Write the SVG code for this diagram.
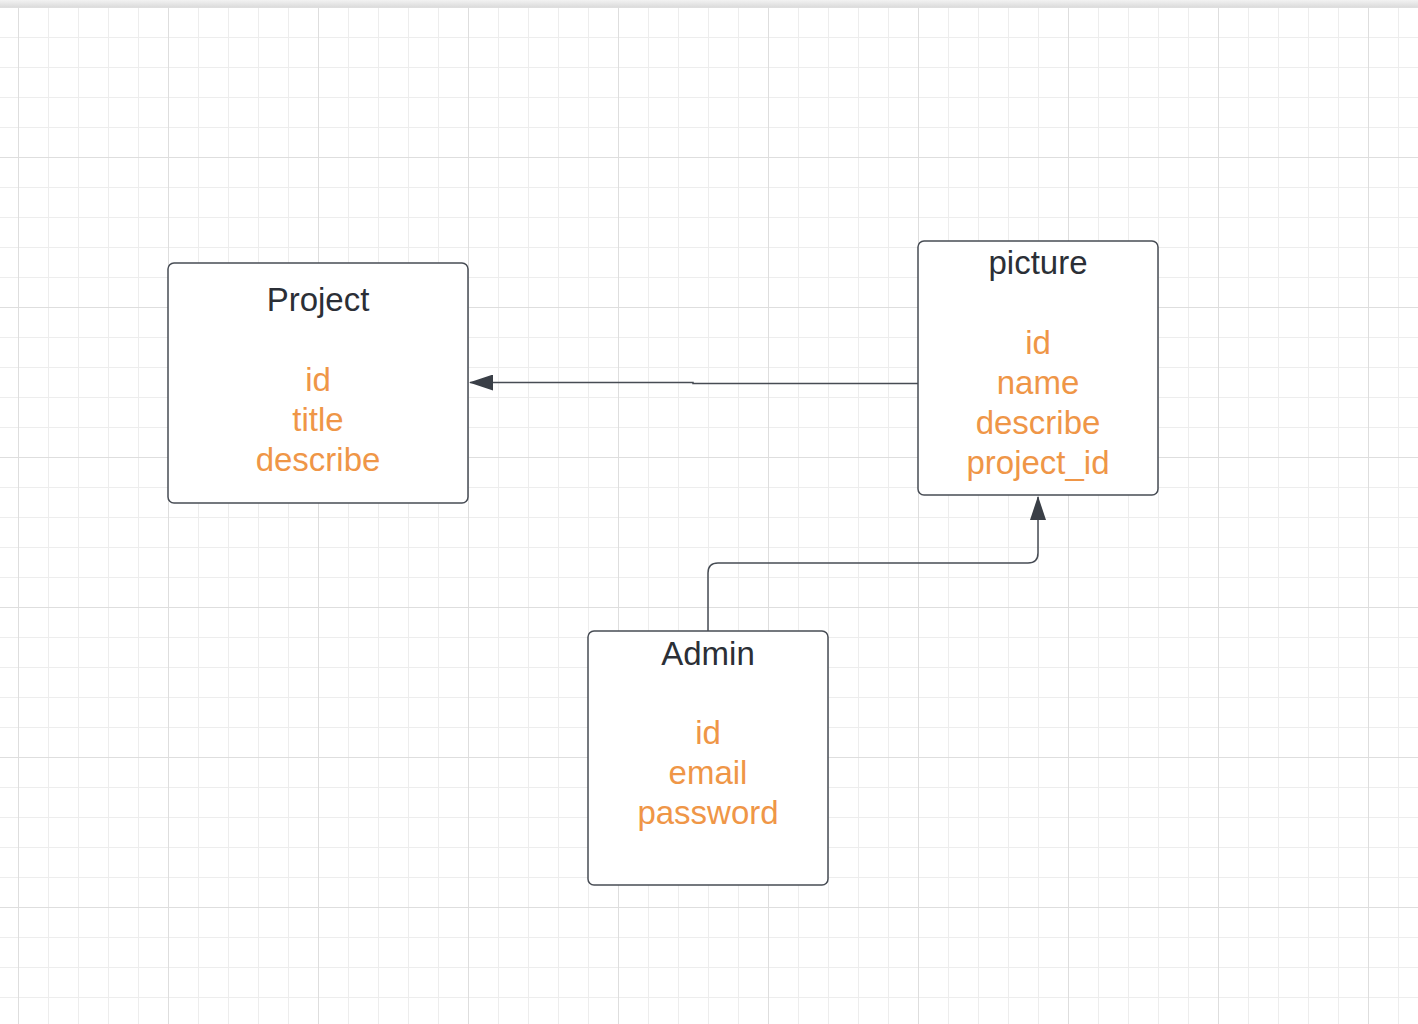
<svg xmlns="http://www.w3.org/2000/svg" width="1418" height="1024" viewBox="0 0 1418 1024">
  <defs>
    <pattern id="minor" x="18" y="7" width="30" height="30" patternUnits="userSpaceOnUse">
      <path d="M0.5 0V30M0 0.5H30" fill="none" stroke="#ededed" stroke-width="1"/>
    </pattern>
    <pattern id="major" x="18" y="7" width="150" height="150" patternUnits="userSpaceOnUse">
      <path d="M0.5 0V150M0 0.5H150" fill="none" stroke="#dedede" stroke-width="1"/>
    </pattern>
    <linearGradient id="topbar" x1="0" y1="0" x2="0" y2="1">
      <stop offset="0" stop-color="#f2f2f2"/>
      <stop offset="1" stop-color="#dcdcdc"/>
    </linearGradient>
    <marker id="arrow" viewBox="0 0 24 16" refX="23" refY="8" markerWidth="24" markerHeight="16" markerUnits="userSpaceOnUse" orient="auto">
      <path d="M0 0L24 8L0 16Z" fill="#3a3f47"/>
    </marker>
    <style>
      .box { fill: #ffffff; stroke: #474c54; stroke-width: 1.5; }
      .title { font-family: "Liberation Sans", Arial, sans-serif; font-size: 33px; fill: #2b2f36; text-anchor: middle; }
      .attr { font-family: "Liberation Sans", Arial, sans-serif; font-size: 33px; fill: #ef9647; text-anchor: middle; }
      .conn { fill: none; stroke: #474c54; stroke-width: 1.5; }
    </style>
  </defs>
  <rect width="1418" height="1024" fill="#ffffff"/>
  <rect width="1418" height="1024" fill="url(#minor)"/>
  <rect width="1418" height="1024" fill="url(#major)"/>
  <rect x="0" y="0" width="1418" height="7" fill="url(#topbar)"/>

  <g id="connectors">
    <path class="conn" d="M918 383.5H693V382.5H470" marker-end="url(#arrow)"/>
    <path class="conn" d="M708 631V573Q708 563 718 563H1028Q1038 563 1038 553V497" marker-end="url(#arrow)"/>
  </g>

  <g id="project">
    <rect class="box" x="168" y="263" width="300" height="240" rx="6"/>
    <text class="title" x="318" y="311">Project</text>
    <text class="attr" x="318" y="391">id</text>
    <text class="attr" x="318" y="431">title</text>
    <text class="attr" x="318" y="471">describe</text>
  </g>

  <g id="picture">
    <rect class="box" x="918" y="241" width="240" height="254" rx="6"/>
    <text class="title" x="1038" y="274">picture</text>
    <text class="attr" x="1038" y="354">id</text>
    <text class="attr" x="1038" y="394">name</text>
    <text class="attr" x="1038" y="434">describe</text>
    <text class="attr" x="1038" y="474">project_id</text>
  </g>

  <g id="admin">
    <rect class="box" x="588" y="631" width="240" height="254" rx="6"/>
    <text class="title" x="708" y="665">Admin</text>
    <text class="attr" x="708" y="744">id</text>
    <text class="attr" x="708" y="784">email</text>
    <text class="attr" x="708" y="824">password</text>
  </g>
</svg>
